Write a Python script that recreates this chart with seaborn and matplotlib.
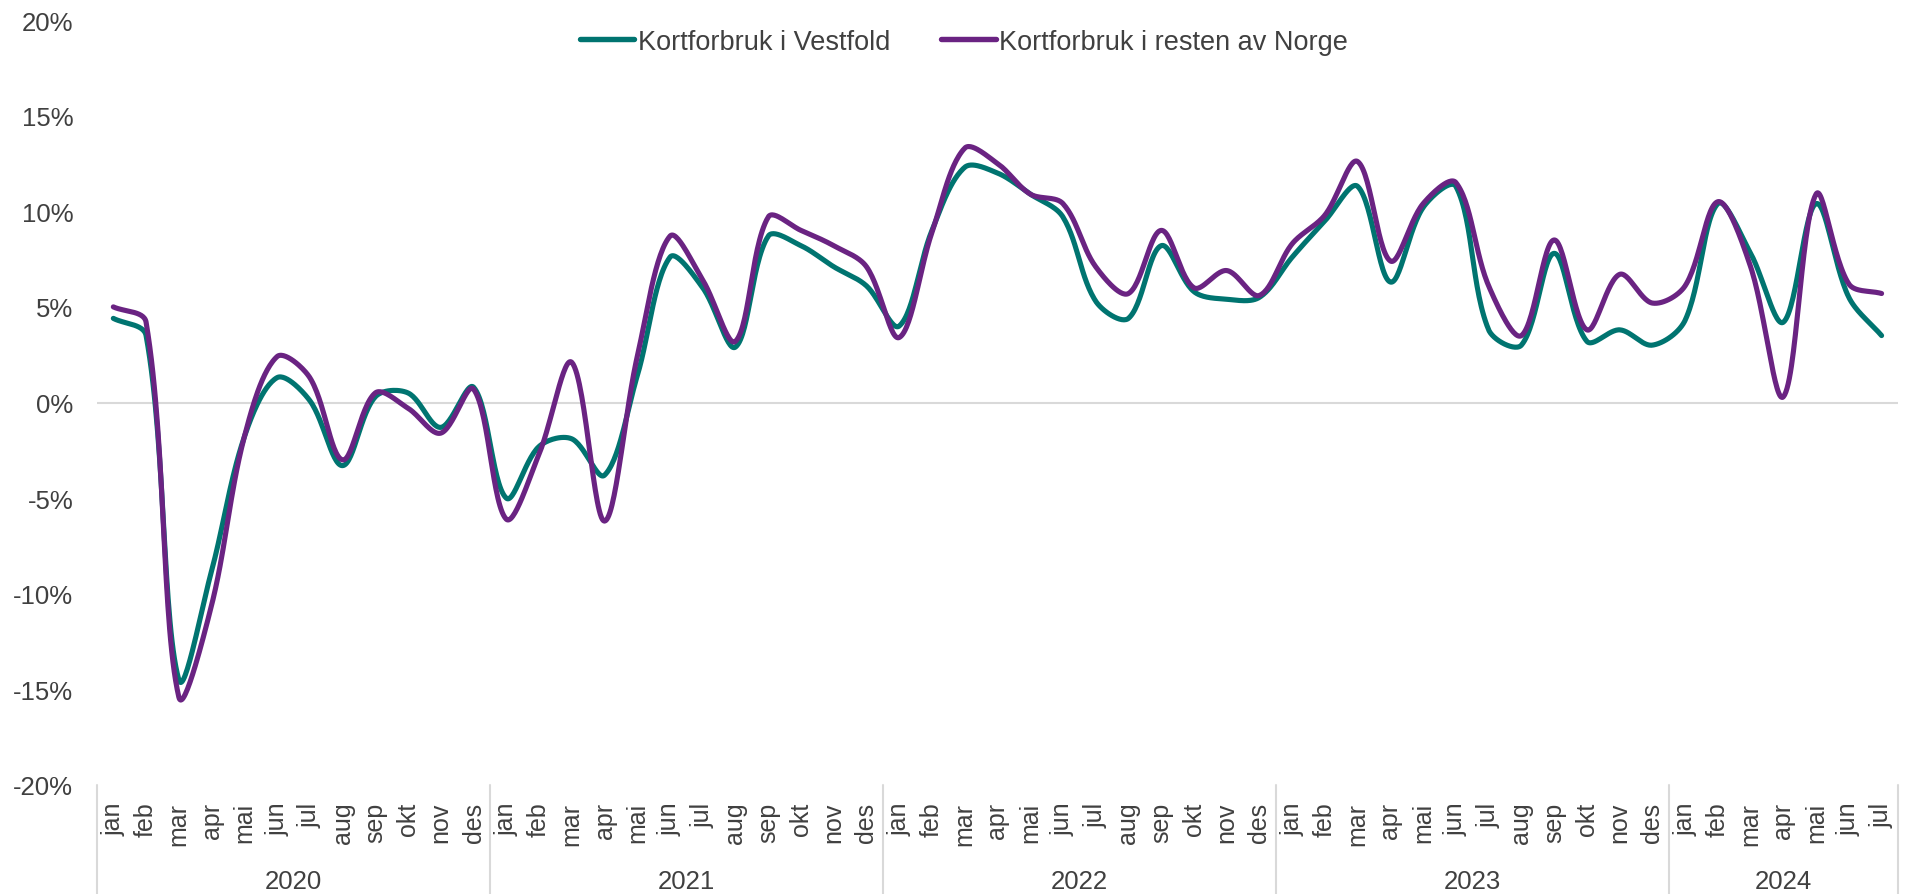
import numpy as np
import pandas as pd
import seaborn as sns
import matplotlib.pyplot as plt
from matplotlib import transforms

# months jan 2020 - jul 2024
months = ["jan", "feb", "mar", "apr", "mai", "jun",
          "jul", "aug", "sep", "okt", "nov", "des"]
years = ["2020", "2021", "2022", "2023", "2024"]
months_per_year = [12, 12, 12, 12, 7]
month_labels = months * 4 + months[:7]

vestfold = [4.4, 3.5, -14.5, -8.8, -1.8, 1.3, 0.1, -3.3, 0.3, 0.5, -1.3, 0.8,
            -5.0, -2.3, -1.9, -3.8, 1.4, 7.6, 6.0, 2.9, 8.7, 8.2, 7.1, 6.1,
            4.0, 9.0, 12.3, 12.0, 10.9, 9.7, 5.3, 4.4, 8.2, 5.8, 5.4, 5.5,
            7.6, 9.5, 11.3, 6.3, 10.2, 11.3, 3.8, 3.0, 7.8, 3.2, 3.8, 3.0,
            4.3, 10.4, 7.8, 4.2, 10.4, 5.5, 3.5]
resten = [5.0, 4.2, -15.4, -10.6, -1.8, 2.4, 1.3, -3.0, 0.5, -0.3, -1.6, 0.7,
          -6.1, -2.7, 2.1, -6.2, 2.4, 8.7, 6.4, 3.2, 9.7, 9.0, 8.2, 7.1,
          3.4, 8.9, 13.3, 12.5, 10.9, 10.4, 7.1, 5.7, 9.0, 6.0, 6.9, 5.6,
          8.3, 9.8, 12.6, 7.4, 10.4, 11.5, 6.1, 3.5, 8.5, 3.8, 6.7, 5.2,
          6.1, 10.5, 7.1, 0.3, 10.9, 6.2, 5.7]

series_names = ["Kortforbruk i Vestfold", "Kortforbruk i resten av Norge"]
colors = ["#007470", "#6A2382"]
text_color = "#404040"
grid_color = "#D9D9D9"

# pixel size of one month / one percent, used to judge segment lengths
PX_X, PX_Y = 32.75, 19.1


def smooth(values, steps=30):
    # smoothed line like a spreadsheet chart: cubic Bezier, tangent split
    # by the screen length of the neighbouring segments
    x = np.arange(len(values), dtype=float)
    y = np.asarray(values, dtype=float)
    pts = np.column_stack([x, y])
    scr = np.column_stack([x * PX_X, y * PX_Y])
    n = len(pts)
    seg = np.hypot(*np.diff(scr, axis=0).T)
    out_c, in_c = [], []
    for i in range(n):
        prev = pts[max(i - 1, 0)]
        nxt = pts[min(i + 1, n - 1)]
        tan = nxt - prev
        l_in = seg[i - 1] if i > 0 else 0.0
        l_out = seg[i] if i < n - 1 else 0.0
        tot = l_in + l_out
        out_c.append(pts[i] + tan * (l_out / tot) / 3)
        in_c.append(pts[i] - tan * (l_in / tot) / 3)
    xs, ys = [], []
    t = np.linspace(0, 1, steps, endpoint=False)[:, None]
    for i in range(n - 1):
        p1, p2 = pts[i], pts[i + 1]
        c1, c2 = out_c[i], in_c[i + 1]
        b = ((1 - t) ** 3 * p1 + 3 * (1 - t) ** 2 * t * c1
             + 3 * (1 - t) * t ** 2 * c2 + t ** 3 * p2)
        xs.extend(b[:, 0])
        ys.extend(b[:, 1])
    xs.append(x[-1])
    ys.append(y[-1])
    return xs, ys


frames = []
for name, vals in zip(series_names, [vestfold, resten]):
    sx, sy = smooth(vals)
    frames.append(pd.DataFrame({"x": sx, "value": sy, "serie": name}))
df = pd.concat(frames, ignore_index=True)

sns.set_theme(style="white")
plt.rcParams["font.family"] = ["Liberation Sans", "DejaVu Sans"]

fig = plt.figure(figsize=(19.05, 8.95), dpi=100)
ax = fig.add_axes([0.0509, 0.1218, 0.9454, 0.8547])

ax.axhline(0, color=grid_color, lw=1.5, zorder=0)
sns.lineplot(data=df, x="x", y="value", hue="serie", palette=colors,
             sort=False, estimator=None, lw=3.7, ax=ax, legend=False)

ax.set_xlim(-0.5, len(month_labels) - 0.5)
ax.set_ylim(-20, 20)
ax.set_yticks(range(-20, 21, 5))
ax.set_yticklabels([f"{v}%" for v in range(-20, 21, 5)])
ax.set_xticks(range(len(month_labels)))
ax.set_xticklabels(month_labels, rotation=90, ha="center", va="top")
ax.tick_params(axis="x", length=0, pad=12, labelsize=18, colors=text_color)
ax.tick_params(axis="y", length=0, pad=17, labelsize=18.5, colors=text_color)
ax.set_xlabel("")
ax.set_ylabel("")
for s in ax.spines.values():
    s.set_visible(False)

# year groups under the month labels
trans = transforms.blended_transform_factory(ax.transData, ax.transAxes)
start = 0
bounds = [-0.5]
for yr, n in zip(years, months_per_year):
    ax.text(start + (n - 1) / 2, -0.1255, yr, transform=trans, ha="center",
            va="center", fontsize=18.5, color=text_color)
    start += n
    bounds.append(start - 0.5)
for b in bounds:
    ax.plot([b, b], [0, -0.1425], transform=trans, color=grid_color,
            lw=1.5, clip_on=False)

handles = [plt.Line2D([], [], color=c, lw=3.9, solid_capstyle="round")
           for c in colors]
fig.legend(handles, series_names, loc="center", bbox_to_anchor=(0.506, 0.952),
           ncol=2, frameon=False, fontsize=19.5, handlelength=2.0,
           handletextpad=0.12, columnspacing=1.9, labelcolor=text_color)

fig.savefig("out.png", dpi=100)
